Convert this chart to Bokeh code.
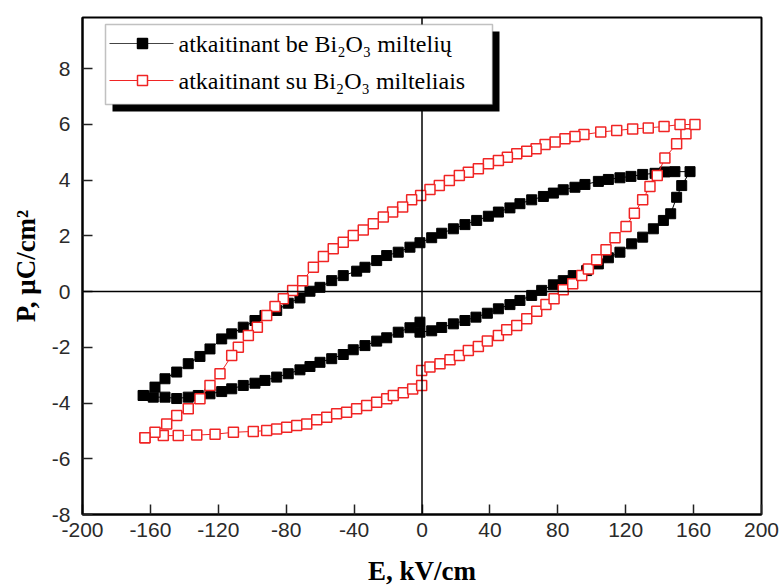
from bokeh.plotting import figure
from bokeh.models import Range1d, FixedTicker, Span, BoxAnnotation, Label
from bokeh.embed import file_html
from bokeh.resources import INLINE

# ---------------- data ----------------
# black: annealed without Bi2O3 powder (filled squares)
E_black = [-164.2, -158.3, -151.4, -144.5, -137.7, -131.8, -124.9, -118.0, -112.1, -105.3,
           -98.4, -92.5, -85.6, -78.8, -71.9, -66.0, -60.1, -53.2, -46.4, -40.5,
           -33.6, -26.7, -20.8, -14.0, -7.1, -1.2, -1.2, 5.7, 11.6, 18.5,
           25.3, 31.8, 38.5, 45.0, 51.8, 57.7, 64.6, 70.5, 77.4, 83.2,
           89.1, 97.0, 103.9, 109.8, 116.6, 123.5, 130.0, 136.3, 142.2, 146.5,
           150.0, 153.0, 157.9,
           149.0, 143.1, 137.3, 130.0, 123.1, 116.6, 109.8, 103.9, 96.0, 90.1,
           83.2, 77.4, 71.5, 64.6, 57.7, 51.8, 45.0, 39.1, 32.2, 25.3,
           18.5, 11.6, 5.7, -1.2, -7.1, -14.0, -20.8, -26.7, -33.6, -38.5,
           -46.4, -53.2, -60.1, -66.0, -71.9, -78.8, -85.6, -92.5, -98.4, -105.3,
           -112.1, -118.0, -124.9, -130.8, -137.7, -144.5, -151.4, -157.3, -164.2]
P_black = [-3.73, -3.79, -3.79, -3.84, -3.79, -3.73, -3.67, -3.59, -3.49, -3.37,
           -3.29, -3.19, -3.07, -2.95, -2.81, -2.69, -2.54, -2.41, -2.26, -2.09,
           -1.94, -1.78, -1.66, -1.46, -1.30, -1.10, -1.46, -1.41, -1.29, -1.16,
           -1.04, -0.92, -0.78, -0.62, -0.47, -0.32, -0.14, 0.04, 0.24, 0.39,
           0.57, 0.75, 0.99, 1.21, 1.41, 1.71, 1.95, 2.25, 2.55, 2.79,
           3.38, 3.80, 4.30,
           4.30, 4.29, 4.24, 4.20, 4.13, 4.08, 4.02, 3.95, 3.84, 3.74,
           3.65, 3.53, 3.41, 3.29, 3.15, 3.00, 2.85, 2.70, 2.55, 2.40,
           2.25, 2.09, 1.93, 1.75, 1.59, 1.41, 1.29, 1.11, 0.87, 0.73,
           0.57, 0.39, 0.15, 0.01, -0.23, -0.42, -0.68, -0.86, -1.04, -1.28,
           -1.52, -1.70, -2.06, -2.33, -2.59, -2.89, -3.13, -3.43, -3.73]

# red: annealed with Bi2O3 powder (open squares)
E_red = [-163.2, -152.4, -143.6, -132.7, -121.9, -111.1, -99.4, -91.5, -85.6, -79.7,
         -73.8, -67.9, -62.0, -56.1, -50.3, -44.4, -38.5, -32.6, -26.7, -20.8,
         -16.9, -11.0, -5.5, -0.2, -0.2, 4.7, 10.6, 16.5, 22.0, 27.3,
         33.2, 38.5, 45.0, 49.9, 55.8, 61.7, 67.6, 73.0, 77.8, 83.2,
         88.8, 94.1, 98.0, 102.9, 108.4, 113.7, 120.2, 125.1, 130.0, 134.3,
         138.6, 143.1, 150.0, 155.5, 160.8,
         152.0, 142.6, 133.3, 124.1, 114.7, 105.3, 95.4, 90.1, 84.2, 78.4,
         72.5, 67.2, 61.7, 55.8, 50.3, 45.0, 39.1, 33.2, 27.3, 22.0,
         16.1, 10.2, 4.7, -0.8, -6.1, -11.4, -17.3, -22.8, -28.7, -34.6,
         -40.5, -46.4, -52.3, -58.1, -64.0, -70.3, -76.2, -81.7, -86.6, -91.5,
         -97.0, -102.3, -108.2, -112.1, -119.0, -124.9, -130.8, -137.7, -144.5, -150.4,
         -157.3, -163.2]
P_red = [-5.25, -5.17, -5.17, -5.15, -5.12, -5.05, -5.02, -4.99, -4.93, -4.87,
         -4.81, -4.75, -4.60, -4.51, -4.39, -4.33, -4.21, -4.09, -3.97, -3.85,
         -3.73, -3.63, -3.50, -3.37, -2.83, -2.71, -2.59, -2.45, -2.30, -2.12,
         -1.97, -1.78, -1.58, -1.37, -1.22, -0.98, -0.71, -0.47, -0.26, 0.06,
         0.28, 0.57, 0.81, 1.14, 1.50, 1.93, 2.33, 2.81, 3.29, 3.77,
         4.16, 4.79, 5.30, 5.66, 5.99,
         5.99, 5.92, 5.87, 5.83, 5.78, 5.72, 5.63, 5.56, 5.48, 5.36,
         5.27, 5.12, 5.03, 4.94, 4.82, 4.70, 4.58, 4.40, 4.28, 4.16,
         3.98, 3.80, 3.66, 3.44, 3.29, 3.03, 2.85, 2.67, 2.43, 2.21,
         2.01, 1.77, 1.53, 1.26, 0.87, 0.39, 0.04, -0.26, -0.54, -0.86,
         -1.28, -1.58, -2.00, -2.30, -2.95, -3.37, -3.85, -4.21, -4.45, -4.75,
         -5.05, -5.25]

x_ticks = [-200, -160, -120, -80, -40, 0, 40, 80, 120, 160, 200]
y_ticks = [-8, -6, -4, -2, 0, 2, 4, 6, 8]
label_black = "atkaitinant be Bi\u2082O\u2083 milteli\u0173"
label_red = "atkaitinant su Bi\u2082O\u2083 milteliais"
x_title = "E, kV/cm"
y_title = "P, \u03bcC/cm\u00b2"

# ---------------- figure ----------------
X0, X1, Y0, Y1 = -200, 200, -8, 9.83
p = figure(width=782, height=588, x_range=Range1d(X0, X1), y_range=Range1d(Y0, Y1),
           output_backend="svg", toolbar_location=None,
           min_border_left=82, min_border_right=21, min_border_top=17, min_border_bottom=74)
p.background_fill_color = "white"
p.border_fill_color = "white"
p.outline_line_color = "black"
p.outline_line_width = 2
p.grid.visible = False

for ax in (p.xaxis[0], p.yaxis[0]):
    ax.axis_line_width = 2
    ax.axis_line_color = "black"
    ax.major_tick_in = 10
    ax.major_tick_out = 0
    ax.major_tick_line_width = 1.5
    ax.major_tick_line_color = "#222222"
    ax.minor_tick_line_color = None
    ax.major_label_text_font = "Liberation Sans"
    ax.major_label_text_font_size = "21px"
    ax.major_label_text_color = "#2a2a2a"
    ax.axis_label_text_font = "Liberation Serif"
    ax.axis_label_text_font_style = "bold"
    ax.axis_label_text_font_size = "27px"
    ax.axis_label_text_color = "black"

p.xaxis.ticker = FixedTicker(ticks=x_ticks)
p.yaxis.ticker = FixedTicker(ticks=y_ticks)
# plain hyphen-minus tick labels as in the original
p.xaxis.major_label_overrides = {t: str(t) for t in x_ticks}
p.yaxis.major_label_overrides = {t: str(t) for t in y_ticks}
p.xaxis.axis_label = x_title
p.yaxis.axis_label = y_title
p.xaxis.major_label_standoff = 8
p.xaxis.axis_label_standoff = 16
p.yaxis.major_label_standoff = 12
p.yaxis.axis_label_standoff = 8

# zero lines
p.add_layout(Span(location=0, dimension="height", line_color="black", line_width=1.5))
p.add_layout(Span(location=0, dimension="width", line_color="black", line_width=1.5))

RED = "#f02424"
p.line(E_black, P_black, line_color="black", line_width=1)
p.scatter(E_black, P_black, marker="square", size=10, fill_color="black", line_color="black")
p.line(E_red, P_red, line_color=RED, line_width=1)
p.scatter(E_red, P_red, marker="square", size=10, fill_color="white", line_color=RED, line_width=1.5)

# ---------------- legend (hand built, pixel layout converted to data units) ----------------
FL, FR, FT, FB = 82, 761, 17, 514
def dx(px):
    return X0 + (px - FL) * (X1 - X0) / (FR - FL)
def dy(py):
    return Y1 - (py - FT) * (Y1 - Y0) / (FB - FT)

p.add_layout(BoxAnnotation(left=dx(112), right=dx(499), top=dy(31), bottom=dy(111),
                           fill_color="black", fill_alpha=1, line_color=None))
p.add_layout(BoxAnnotation(left=dx(105), right=dx(492), top=dy(24), bottom=dy(104),
                           fill_color="white", fill_alpha=1, line_color="#333333", line_width=1.5))

rows = [(43, "#444444", "black", "black", label_black),
        (80, RED, RED, "white", label_red)]
for py, lc, mc, fc, txt in rows:
    r1 = p.line([dx(109), dx(173)], [dy(py), dy(py)], line_color=lc, line_width=1.2)
    r2 = p.scatter([dx(142)], [dy(py)], marker="square", size=10, fill_color=fc, line_color=mc,
                   line_width=1.5)
    r1.level = "overlay"
    r2.level = "overlay"
    p.add_layout(Label(x=dx(178), y=dy(py), text=txt, text_font="Liberation Serif",
                       text_font_size="24px", text_baseline="middle", text_align="left",
                       text_color="black"))

open("out.html", "w").write(file_html(p, INLINE))
